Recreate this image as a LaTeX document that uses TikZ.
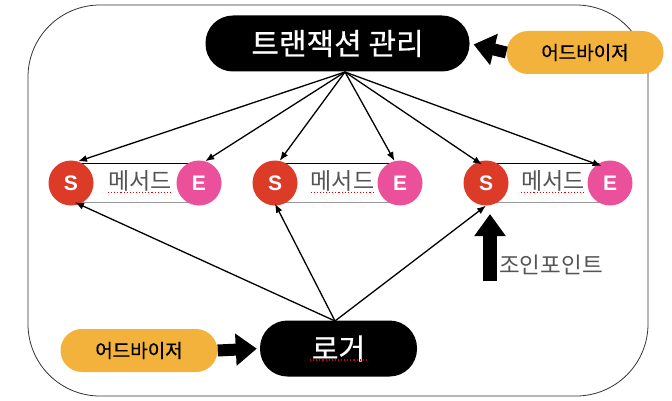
\documentclass[tikz,border=0pt]{standalone}
\usepackage{fontspec}
\setmainfont{Liberation Sans}
\newfontfamily\kr[FakeBold=0.5]{Noto Sans CJK KR}
\newfontfamily\krl{Noto Sans CJK KR}
\usetikzlibrary{arrows.meta}
\definecolor{advorange}{HTML}{F2B23C}
\definecolor{sred}{HTML}{DB3B27}
\definecolor{epink}{HTML}{EB519B}
\definecolor{mgray}{HTML}{555555}
\begin{document}
\begin{tikzpicture}[x=1pt,y=-1pt,
  blackpill/.style={fill=black, text=white, inner sep=0pt, rounded corners=27.5pt,
    minimum height=56pt},
  advpill/.style={fill=advorange, text=black, inner sep=0pt, rounded corners=21.5pt,
    minimum height=43pt, minimum width=157pt, font=\kr\fontsize{19}{19}\selectfont},
  scirc/.style={circle, fill=sred, text=white, inner sep=0pt, minimum size=45pt,
    font=\bfseries\fontsize{21}{21}\selectfont},
  ecirc/.style={circle, fill=epink, text=white, inner sep=0pt, minimum size=45pt,
    font=\bfseries\fontsize{21}{21}\selectfont},
  mtext/.style={text=mgray, inner sep=0pt, font=\krl\fontsize{23}{23}\selectfont},
  thin arrow/.style={line width=1.3pt, -{Latex[length=9pt,width=7pt]}},
  fat arrow/.style={line width=12pt, -{Triangle[length=21pt,width=31pt]}},
  spell/.style={red!85!black, line width=1.1pt, dotted}
]
\useasboundingbox (0,0) rectangle (672,401);
% outer frame
\draw[line width=0.8pt, black!80, rounded corners=72pt] (28,5) rectangle (648,396);

% top
\node[blackpill, minimum width=264pt, font=\kr\fontsize{30}{30}\selectfont] (tx) at (337.5,43.5) {트랜잭션 관리};
\node[advpill] (adv1) at (585,52.5) {어드바이저};
\draw[fat arrow, shorten >=4pt] (adv1.west) -- (tx.east);

% methods
\foreach \n/\sx/\ex in {1/71/199, 2/275/400, 3/486/610}{
  \fill[white] (\sx,163) rectangle (\ex,202);
  \draw[gray!80, line width=0.8pt] (\sx,202) -- (\ex,202);
  \draw[black, line width=0.8pt] (\sx,163) -- (\ex,163);
  \node[mtext] (m\n) at ({(\sx+\ex)/2+5},181) {메서드};
  \draw[spell] ([yshift=-1pt]m\n.south west) -- ([yshift=-1pt]m\n.south east);
  \node[scirc] (s\n) at (\sx,183) {S};
  \node[ecirc] (e\n) at (\ex,183) {E};
}

% transaction arrows
\coordinate (txa) at (345,72);
\draw[thin arrow] (txa) -- (s1.72);
\draw[thin arrow] (txa) -- (e1.74);
\draw[thin arrow] (txa) -- (s2.78);
\draw[thin arrow] (txa) -- (e2.104);
\draw[thin arrow] (txa) -- ([yshift=-4pt]s3.100);
\draw[thin arrow] (txa) -- ([yshift=-4pt]e3.112);

% logger
\node[blackpill, minimum width=157pt, font=\kr\fontsize{29}{29}\selectfont] (log) at (338.5,348.5) {로거};
\draw[spell] (310,360) -- (366,360);
\node[advpill] (adv2) at (139,350.5) {어드바이저};
\draw[fat arrow, shorten >=3pt] (adv2.east) -- (log.west);

\coordinate (loga) at (335,321);
\draw[thin arrow] (loga) -- ([yshift=3pt]s1.-80);
\draw[thin arrow] (loga) -- ([yshift=2pt]s2.-90);
\draw[thin arrow] (loga) -- (s3.-90);

% join point
\coordinate (jp) at (490,281);
\draw[line width=14pt, -{Triangle[length=22pt,width=30pt]}] (jp) -- (490,214);
\node[text=mgray, inner sep=0pt, anchor=west, font=\krl\fontsize{22.5}{22.5}\selectfont] (jpt) at (499,265) {조인포인트};
\end{tikzpicture}
\end{document}
